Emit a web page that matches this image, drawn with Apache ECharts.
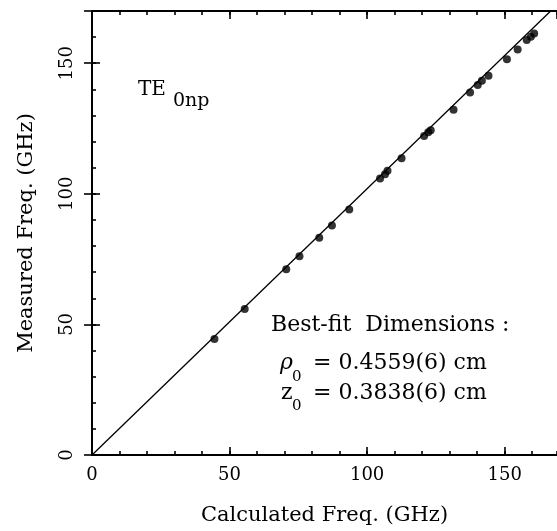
<!DOCTYPE html>
<html><head><meta charset="utf-8">
<script src="https://cdn.jsdelivr.net/npm/echarts@6/dist/echarts.min.js"></script>
<style>html,body{margin:0;padding:0;background:#fff}#c{width:557px;height:531px}</style>
</head><body><div id="c"></div>
<script>
// Data
const calcFreq = [44.5, 55.5, 70.6, 75.4, 82.6, 87.2, 93.5, 104.7, 106.5, 107.4, 112.5, 120.7, 122.2, 123.1, 131.4, 137.4, 140.2, 141.7, 144.1, 150.8, 154.7, 158.0, 159.5, 160.7];
const measFreq = [44.4, 55.9, 71.1, 76.1, 83.2, 87.9, 94.0, 105.9, 107.5, 108.8, 113.6, 122.1, 123.6, 124.3, 132.2, 138.8, 141.7, 143.3, 145.2, 151.5, 155.3, 158.9, 160.1, 161.4];
const fitX = [0, 166.7];
const fitY = [0, 170];
const xRange = [0, 169];
const yRange = [0, 170];
const xTitle = 'Calculated Freq. (GHz)';
const yTitle = 'Measured Freq. (GHz)';

const FONT = 'DejaVu Serif';
const chart = echarts.init(document.getElementById('c'), null, {renderer: 'canvas'});

function ax(pos, range, interval, len, extra) {
  return Object.assign({
    type: 'value', position: pos, min: range[0], max: range[1], interval: interval,
    axisLine: {show: true, onZero: false, lineStyle: {color: '#000', width: 2}},
    axisTick: {show: true, inside: true, length: len, lineStyle: {color: '#000', width: 1.6}},
    axisLabel: {show: false},
    splitLine: {show: false}
  }, extra || {});
}

const scatterData = calcFreq.map((v, i) => [v, measFreq[i]]);
const lineData = fitX.map((v, i) => [v, fitY[i]]);

chart.setOption({
  animation: false,
  backgroundColor: '#fff',
  grid: {left: 92, right: -4, top: 11, bottom: 73, containLabel: false},
  xAxis: [
    ax('bottom', xRange, 10, 4),
    ax('bottom', xRange, 50, 8, {
      axisLabel: {show: true, showMaxLabel: false, color: '#000', fontFamily: FONT, fontSize: 18, margin: 11},
      name: xTitle, nameLocation: 'middle', nameGap: 50,
      nameTextStyle: {color: '#000', fontFamily: FONT, fontSize: 21}
    }),
    ax('top', xRange, 10, 4),
    ax('top', xRange, 50, 8)
  ],
  yAxis: [
    ax('left', yRange, 10, 4),
    ax('left', yRange, 50, 8, {
      axisLabel: {show: true, showMaxLabel: false, rotate: 90, color: '#000', fontFamily: FONT, fontSize: 18, margin: 16},
      name: yTitle, nameLocation: 'middle', nameGap: 55,
      nameTextStyle: {color: '#000', fontFamily: FONT, fontSize: 21}
    }),
    ax('right', yRange, 50, 8, {axisLine: {show: false}})
  ],
  series: [
    {type: 'line', xAxisIndex: 0, yAxisIndex: 0, data: lineData, symbol: 'none',
     lineStyle: {color: '#000', width: 1.3}, silent: true},
    {type: 'scatter', xAxisIndex: 0, yAxisIndex: 0, data: scatterData, symbol: 'circle', symbolSize: 8,
     itemStyle: {color: '#000'}}
  ],
  graphic: [
    {type: 'text', left: 138, top: 80, style: {text: 'TE', font: '20px "DejaVu Serif"', fill: '#000'}},
    {type: 'text', left: 173, top: 92, style: {text: '0np', font: '19px "DejaVu Serif"', fill: '#000'}},
    {type: 'text', left: 271, top: 314, style: {text: 'Best-fit  Dimensions :', font: '22px "DejaVu Serif"', fill: '#000'}},
    {type: 'text', left: 280, top: 352, style: {text: 'ρ', font: 'italic 22px "DejaVu Serif"', fill: '#000'}},
    {type: 'text', left: 292, top: 370, style: {text: '0', font: '15px "DejaVu Serif"', fill: '#000'}},
    {type: 'text', left: 313, top: 352, style: {text: '= 0.4559(6) cm', font: '22px "DejaVu Serif"', fill: '#000'}},
    {type: 'text', left: 281, top: 382, style: {text: 'z', font: '22px "DejaVu Serif"', fill: '#000'}},
    {type: 'text', left: 292, top: 399, style: {text: '0', font: '15px "DejaVu Serif"', fill: '#000'}},
    {type: 'text', left: 313, top: 382, style: {text: '= 0.3838(6) cm', font: '22px "DejaVu Serif"', fill: '#000'}}
  ]
});
</script></body></html>
